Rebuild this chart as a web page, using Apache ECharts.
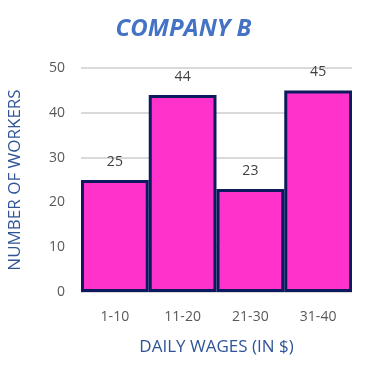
<!DOCTYPE html>
<html><head><meta charset="utf-8">
<script src="https://cdn.jsdelivr.net/npm/echarts@6/dist/echarts.min.js"></script>
<style>html,body{margin:0;padding:0;background:#fff}#c{width:367px;height:367px}</style>
</head><body><div id="c"></div>
<script>
const categories = ['1-10', '11-20', '21-30', '31-40'];
const workers = [25, 44, 23, 45];
const yTicks = [0, 10, 20, 30, 40, 50];

const chart = echarts.init(document.getElementById('c'));
chart.setOption({
  animation: false,
  title: {
    text: 'COMPANY B', left: 'center', top: 12,
    textStyle: { fontFamily: 'Open Sans', fontSize: 24, fontWeight: 'bold', fontStyle: 'italic', color: '#4472C4' }
  },
  grid: { left: 81, right: 15, top: 68, bottom: 75, outerBoundsMode: 'none', containLabel: false },
  xAxis: {
    type: 'category', data: categories,
    name: 'DAILY WAGES (IN $)', nameLocation: 'middle', nameGap: 47,
    nameTextStyle: { fontFamily: 'Open Sans', fontSize: 17, color: '#2F5597' },
    axisLine: { lineStyle: { color: '#D9D9D9', width: 1 } },
    axisTick: { show: false },
    axisLabel: { fontFamily: 'Open Sans', fontSize: 14, color: '#595959', margin: 18 },
  },
  yAxis: {
    type: 'value', min: yTicks[0], max: yTicks[yTicks.length - 1], interval: 10,
    name: 'NUMBER OF WORKERS', nameLocation: 'middle', nameGap: 57,
    nameTextStyle: { fontFamily: 'Open Sans', fontSize: 17, color: '#2F5597' },
    axisLine: { show: false }, axisTick: { show: false },
    axisLabel: { fontFamily: 'Open Sans', fontSize: 14, color: '#595959', margin: 16 },
    splitLine: { lineStyle: { color: '#D9D9D9', width: 2 } }
  },
  series: [{
    type: 'bar', data: workers, barCategoryGap: '0%',
    itemStyle: { color: '#FF33CC', borderColor: '#0D1B5E', borderWidth: 3 },
    label: { show: true, position: 'top', distance: 11, fontFamily: 'Open Sans', fontSize: 14, color: '#404040' }
  }]
});
</script></body></html>
